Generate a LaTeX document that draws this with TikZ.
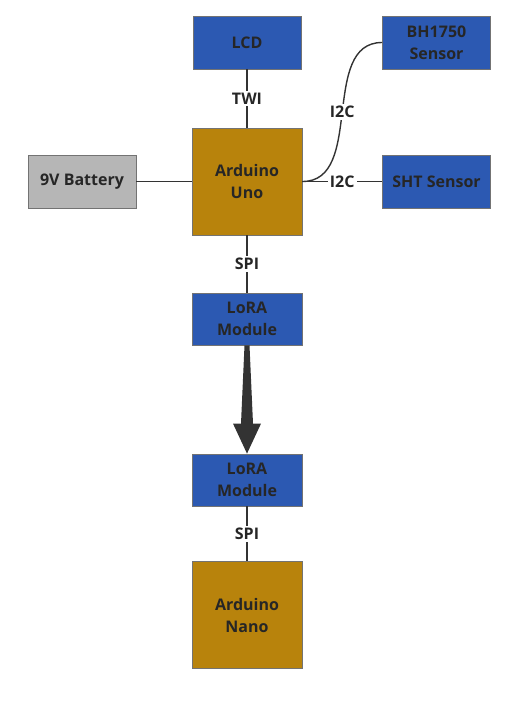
\documentclass[tikz,border=0pt]{standalone}
\usepackage{fontspec}
\setmainfont{Open Sans}
\usetikzlibrary{positioning,calc}
\definecolor{modblue}{RGB}{44,89,178}
\definecolor{boardgold}{RGB}{184,131,12}
\definecolor{battgray}{RGB}{182,182,182}
\definecolor{wiregray}{RGB}{51,51,51}
\tikzset
{
    module/.style = {rectangle, draw=black!55, line width=0.8pt, fill=modblue, align=center, minimum width=108pt, minimum height=53pt, text=black!85, font=\fontsize{16}{22}\selectfont\bfseries},
    board/.style  = {module, fill=boardgold, minimum width=110pt, minimum height=107pt},
    radio/.style  = {module, minimum width=110pt, minimum height=52pt},
    power/.style  = {module, fill=battgray},
    wire/.style   = {line width=1.4pt, draw=wiregray},
    buslabel/.style = {fill=white, inner sep=2pt, text=black!85, font=\fontsize{16}{18}\selectfont\bfseries},
    bigarrow/.style = {fill=wiregray, draw=none},
}

\begin{document}
\begin{tikzpicture}[x=1pt,y=1pt]
\useasboundingbox (0,0) rectangle (523,-707);
\newcommand\colShift{189.5}
\newcommand\rowShift{139}
\node(uno) [board] at (247,-181.5) {Arduino\\Uno};
\node(lcd) [module] at ([shift=({0,\rowShift})]uno) {LCD};
\node(bh) [module] at ([shift=({\colShift,\rowShift})]uno) {BH1750\\Sensor};
\node(sht) [module] at ([shift=({\colShift,0})]uno) {SHT Sensor};
\node(batt) [power] at ([shift=({-165,0})]uno) {9V Battery};
\node(loratx) [radio] at ([shift=({0,-137.5})]uno) {LoRA\\Module};
\node(lorarx) [radio] at ([shift=({0,-161})]loratx) {LoRA\\Module};
\node(nano) [board] at ([shift=({0,-135})]lorarx) {Arduino\\Nano};
\draw[wire] (lcd) -- node[buslabel] {TWI} (uno);
\draw[wire] (batt) -- (uno);
\draw[wire] (uno.east) to[out=0,in=180] node[buslabel] {I2C} (bh.west);
\draw[wire] (uno) -- node[buslabel] {I2C} (sht);
\draw[wire] (uno) -- node[buslabel] {SPI} (loratx);
\draw[wire] (lorarx) -- node[buslabel] {SPI} (nano);
% radio link
\fill[bigarrow] ($(loratx.south)+(-2.5,0)$) -- ($(loratx.south)+(2.5,0)$) -- ($(lorarx.north)+(6,30)$) -- ($(lorarx.north)+(14,30)$) -- (lorarx.north) -- ($(lorarx.north)+(-14,30)$) -- ($(lorarx.north)+(-6,30)$) -- cycle;
\end{tikzpicture}
\end{document}
